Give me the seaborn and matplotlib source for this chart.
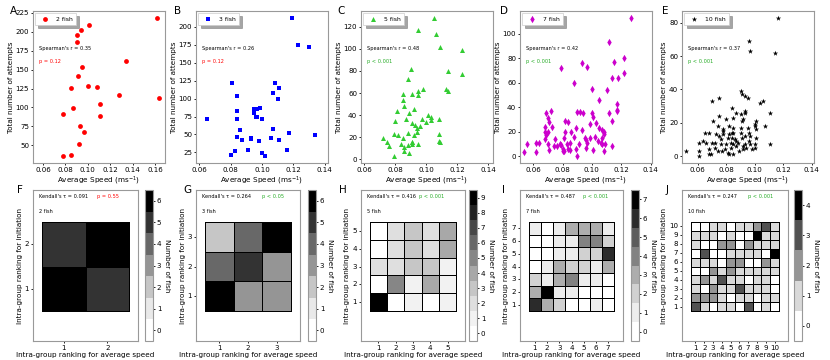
import numpy as np
import pandas as pd
import matplotlib
matplotlib.use("Agg")
import matplotlib.pyplot as plt
import seaborn as sns
from matplotlib.colors import ListedColormap

# ---------------- data ----------------
a_speed = [0.162, 0.101, 0.094, 0.090, 0.090, 0.134, 0.095, 0.091, 0.085, 0.100, 0.108,
           0.128, 0.164, 0.111, 0.087, 0.078, 0.111, 0.093, 0.097, 0.092, 0.085, 0.078]
a_att = [218, 209, 202, 196, 186, 161, 153, 141, 126, 128, 127,
         116, 113, 105, 99, 92, 89, 76, 68, 52, 38, 36]

b_speed = [0.119, 0.123, 0.130, 0.081, 0.084, 0.084, 0.108, 0.111, 0.107, 0.110, 0.065, 0.084,
           0.095, 0.097, 0.099, 0.095, 0.096, 0.097, 0.100, 0.107, 0.086, 0.117, 0.134, 0.084,
           0.087, 0.093, 0.093, 0.106, 0.111, 0.098, 0.116, 0.091, 0.083, 0.080, 0.100, 0.102]
b_att = [212, 175, 171, 121, 103, 82, 121, 115, 108, 99, 71, 71,
         86, 86, 87, 80, 75, 74, 71, 57, 56, 52, 49, 47,
         43, 44, 45, 45, 43, 41, 29, 28, 27, 22, 24, 20]

c_speed = [0.105, 0.095, 0.106, 0.109, 0.123, 0.090, 0.114, 0.123, 0.088, 0.098, 0.113,
           0.114, 0.095, 0.085, 0.091, 0.095, 0.085, 0.086, 0.081, 0.092, 0.089, 0.101,
           0.103, 0.080, 0.087, 0.097, 0.091, 0.093, 0.096, 0.094, 0.100, 0.103, 0.108,
           0.094, 0.092, 0.088, 0.079, 0.082, 0.072, 0.075, 0.076, 0.085, 0.086, 0.086,
           0.084, 0.088, 0.091, 0.091, 0.095, 0.089, 0.079, 0.108, 0.108, 0.109, 0.091]
c_att = [128, 117, 113, 102, 99, 82, 80, 77, 73, 64, 64,
         62, 62, 59, 59, 58, 54, 48, 44, 46, 42, 40,
         38, 35, 37, 37, 33, 31, 30, 28, 34, 36, 37,
         25, 22, 24, 23, 22, 19, 16, 12, 19, 11, 8,
         14, 13, 16, 14, 14, 6, 3, 23, 17, 16, 16]

d_speed = [0.127, 0.112, 0.093, 0.097, 0.079, 0.115, 0.122, 0.122, 0.114, 0.118, 0.088, 0.100,
           0.110, 0.105, 0.117, 0.117, 0.117, 0.072, 0.069, 0.090, 0.092, 0.094, 0.100, 0.112,
           0.101, 0.070, 0.071, 0.082, 0.084, 0.114, 0.068, 0.073, 0.068, 0.069, 0.068, 0.070,
           0.071, 0.074, 0.078, 0.079, 0.080, 0.080, 0.081, 0.081, 0.082, 0.084, 0.085, 0.085,
           0.086, 0.089, 0.088, 0.089, 0.090, 0.093, 0.095, 0.096, 0.096, 0.097, 0.099, 0.099,
           0.102, 0.104, 0.105, 0.106, 0.107, 0.107, 0.107, 0.108, 0.108, 0.108, 0.109, 0.114,
           0.056, 0.054, 0.062, 0.062, 0.064, 0.076, 0.083, 0.091, 0.101, 0.103, 0.070, 0.075]
d_att = [113, 93, 76, 73, 72, 77, 80, 68, 64, 64, 60, 55,
         54, 46, 43, 38, 37, 37, 35, 36, 36, 35, 35, 35,
         32, 31, 28, 29, 28, 29, 24, 24, 20, 17, 14, 10,
         5, 8, 10, 9, 6, 4, 4, 15, 20, 6, 5, 11,
         20, 23, 16, 6, 0, 21, 15, 13, 7, 11, 15, 26,
         16, 12, 23, 11, 15, 21, 10, 18, 4, 20, 10, 8,
         10, 3, 3, 11, 11, 8, 10, 10, 5, 27, 20, 14]

e_speed = [0.116, 0.096, 0.097, 0.114, 0.090, 0.091, 0.093, 0.095, 0.070, 0.075, 0.084, 0.075,
           0.080, 0.085, 0.087, 0.090, 0.092, 0.093, 0.093, 0.101, 0.100, 0.100, 0.107, 0.104,
           0.106, 0.111, 0.111, 0.065, 0.068, 0.061, 0.061, 0.061, 0.052, 0.066, 0.068, 0.068,
           0.069, 0.070, 0.072, 0.073, 0.074, 0.075, 0.076, 0.076, 0.078, 0.078, 0.078, 0.079,
           0.080, 0.081, 0.082, 0.082, 0.083, 0.083, 0.084, 0.084, 0.085, 0.085, 0.085, 0.086,
           0.087, 0.087, 0.088, 0.089, 0.090, 0.090, 0.091, 0.091, 0.092, 0.092, 0.093, 0.093,
           0.094, 0.095, 0.096, 0.096, 0.097, 0.097, 0.098, 0.100, 0.100, 0.101, 0.101, 0.072,
           0.074, 0.077, 0.081, 0.082, 0.085, 0.064, 0.071]
e_att = [83, 69, 63, 62, 39, 37, 36, 35, 33, 35, 29, 24,
         22, 23, 26, 25, 22, 27, 26, 21, 19, 18, 18, 32,
         33, 26, 7, 14, 14, 8, 3, 0, 3, 8, 4, 1,
         1, 8, 8, 13, 18, 12, 7, 10, 16, 15, 13, 4,
         7, 11, 13, 18, 8, 5, 14, 11, 14, 17, 7, 10,
         6, 9, 8, 3, 17, 14, 21, 11, 6, 4, 12, 7,
         5, 17, 14, 9, 7, 12, 4, 7, 5, 11, 16, 5,
         3, 3, 2, 1, 1, 9, 21]

group_sizes = [2, 3, 5, 7, 10]
spearman_r = ["0.35", "0.26", "0.48", "0.42", "0.37"]
spearman_p = ["p = 0.12", "p = 0.12", "p < 0.001", "p < 0.001", "p < 0.001"]
kendall_tau = ["0.091", "0.264", "0.416", "0.487", "0.247"]
kendall_p = ["p = 0.55", "p < 0.05", "p < 0.001", "p < 0.001", "p < 0.001"]

# ranking matrices: rows from top (highest initiation rank) to bottom (rank 1)
f_mat = [[5, 6],
         [6, 5]]
g_mat = [[2, 4, 6],
         [4, 5, 3],
         [6, 3, 3]]
h_mat = [[0, 2, 3, 2, 4],
         [0, 2, 3, 2, 4],
         [2, 2, 3, 3, 1],
         [0, 5, 1, 4, 1],
         [9, 0, 1, 0, 1]]
i_mat = [[1, 0, 1, 3, 3, 3, 1],
         [0, 0, 1, 1, 4, 4, 2],
         [0, 0, 1, 1, 2, 2, 6],
         [0, 1, 3, 2, 2, 1, 3],
         [2, 1, 3, 4, 1, 1, 0],
         [3, 7, 1, 1, 0, 0, 0],
         [6, 3, 2, 0, 0, 1, 0]]
j_mat = [[0, 0, 1, 1, 0, 1, 1, 2, 3, 1],
         [1, 1, 1, 0, 1, 0, 0, 4, 1, 1],
         [1, 0, 0, 2, 2, 0, 2, 1, 1, 1],
         [0, 3, 0, 0, 1, 1, 1, 1, 0, 4],
         [1, 1, 1, 0, 2, 2, 0, 0, 2, 1],
         [0, 0, 2, 1, 2, 1, 1, 1, 1, 1],
         [1, 2, 1, 3, 1, 1, 0, 1, 1, 0],
         [1, 0, 2, 1, 1, 3, 1, 1, 1, 0],
         [2, 2, 2, 1, 0, 1, 1, 0, 1, 1],
         [3, 1, 0, 1, 1, 0, 3, 0, 1, 0]]
cbar_max = [6, 6, 9, 7, 4]

# ---------------- style ----------------
plt.rcParams['font.family'] = ['DejaVu Sans']
plt.rcParams['axes.edgecolor'] = '0.6'
plt.rcParams['axes.linewidth'] = 0.8
plt.rcParams['xtick.major.size'] = 1.6
plt.rcParams['ytick.major.size'] = 1.6
plt.rcParams['xtick.major.width'] = 0.6
plt.rcParams['ytick.major.width'] = 0.6
plt.rcParams['xtick.major.pad'] = 1.2
plt.rcParams['ytick.major.pad'] = 1.2

W, H = 830, 360
fig = plt.figure(figsize=(W / 100, H / 100), dpi=100)


def ax_px(l, t, w, h):
    return fig.add_axes([l / W, 1 - (t + h) / H, w / W, h / H])


LBL = 5.2
TCK = 5.1
SMALL = 3.6
green = '#22aa22'

# ---------------- top row: scatter ----------------
speeds = [a_speed, b_speed, c_speed, d_speed, e_speed]
atts = [a_att, b_att, c_att, d_att, e_att]
colors = ['red', 'blue', '#33cc33', '#cc00cc', 'black']
markers = ['o', 's', '^', 'd', '*']
sizes = [12, 11, 13, 14, 16]
top_left = [33, 196, 361, 520, 682]
xlims = [(0.051, 0.169), (0.058, 0.142), (0.058, 0.143), (0.051, 0.141), (0.049, 0.1415)]
letters_top = ['A', 'B', 'C', 'D', 'E']
letter_off = [20, 18, 20, 16, 17]

for i in range(5):
    ax = ax_px(top_left[i], 11, 132, 152)
    df = pd.DataFrame({'speed': speeds[i], 'attempts': atts[i]})
    sns.scatterplot(data=df, x='speed', y='attempts', ax=ax, color=colors[i],
                    marker=markers[i], s=sizes[i], linewidth=0,
                    label=f'{group_sizes[i]} fish')
    ax.set_xlim(*xlims[i])
    if i == 0:
        ax.set_xticks([0.06, 0.08, 0.10, 0.12, 0.14, 0.16])
    else:
        ax.set_xticks([0.06, 0.08, 0.10, 0.12, 0.14])
    ax.set_xticklabels([f'{t:.2f}' for t in ax.get_xticks()])
    ax.tick_params(labelsize=TCK)
    ax.set_xlabel('Average Speed (ms$^{-1}$)', fontsize=LBL, labelpad=1.5)
    ax.set_ylabel('Total number of attempts', fontsize=LBL, labelpad=1.5)
    leg = ax.legend(loc='upper left', fontsize=4.4, shadow=True, borderaxespad=0.35,
                    handletextpad=0.8, borderpad=0.55, markerscale=1.0, fancybox=False)
    leg.get_frame().set_linewidth(0.5)
    ax.text(0.045, 0.75, f"Spearman's r = {spearman_r[i]}", transform=ax.transAxes,
            fontsize=SMALL, va='center', ha='left')
    ax.text(0.045, 0.667, spearman_p[i], transform=ax.transAxes, fontsize=SMALL,
            va='center', ha='left', color=('red' if i < 2 else green))
    fig.text((top_left[i] - letter_off[i]) / W, 1 - 11 / H, letters_top[i],
             fontsize=7.5, ha='center', va='center')

# ---------------- bottom row: heatmaps ----------------
mats = [f_mat, g_mat, h_mat, i_mat, j_mat]
bot_left = [33, 196, 361, 520, 682]
bot_w = [105, 104, 104, 103, 106]
cb_left = [145, 308, 469, 631, 794]
letters_bot = ['F', 'G', 'H', 'I', 'J']
letter_off_b = [13, 9, 18, 17, 15]
p_x = [0.61, 0.635, 0.56, 0.61, 0.62]

for i in range(5):
    mat = np.array(mats[i])
    n = mat.shape[0]
    vmax = cbar_max[i]
    ax = ax_px(bot_left[i], 190, bot_w[i], 151)
    cax = ax_px(cb_left[i], 190, 8, 151)
    cmap = ListedColormap(plt.get_cmap('Greys')(np.linspace(0, 1, vmax + 1)))
    sns.heatmap(mat, ax=ax, cmap=cmap, vmin=-0.5, vmax=vmax + 0.5,
                linewidths=0.7, linecolor='black', cbar_ax=cax,
                cbar_kws={'ticks': list(range(vmax + 1))},
                xticklabels=list(range(1, n + 1)),
                yticklabels=list(range(n, 0, -1)))
    ax.set_xlim(-0.1024 * n, n + 0.1024 * n)
    ax.set_ylim(n + 0.337 * n, -0.36 * n)
    for s in ax.spines.values():
        s.set_visible(True)
        s.set_color('0.6')
        s.set_linewidth(0.8)
    ax.tick_params(labelsize=TCK, length=1.6)
    plt.setp(ax.get_yticklabels(), rotation=0)
    plt.setp(ax.get_xticklabels(), rotation=0)
    ax.set_xlabel('Intra-group ranking for average speed', fontsize=LBL, labelpad=1)
    ax.set_ylabel('Intra-group ranking for initiation', fontsize=LBL, labelpad=1.5)
    ax.text(0.057, 0.955, f"Kendall's \u03c4 = {kendall_tau[i]}", transform=ax.transAxes,
            fontsize=SMALL, va='center', ha='left')
    ax.text(p_x[i], 0.955, kendall_p[i], transform=ax.transAxes, fontsize=SMALL,
            va='center', ha='left', color=('red' if i == 0 else green))
    ax.text(0.057, 0.855, f'{group_sizes[i]} fish', transform=ax.transAxes,
            fontsize=SMALL, va='center', ha='left')
    cbar = ax.collections[0].colorbar
    cbar.outline.set_edgecolor('0.6')
    cbar.outline.set_linewidth(0.8)
    cbar.ax.tick_params(labelsize=TCK, length=1.6, width=0.6, pad=1.2)
    cbar.set_label('Number of fish', rotation=270, fontsize=LBL, labelpad=6)
    fig.text((bot_left[i] - letter_off_b[i]) / W, 1 - 190 / H, letters_bot[i],
             fontsize=7.5, ha='center', va='center')

fig.savefig('out.png', dpi=100)
